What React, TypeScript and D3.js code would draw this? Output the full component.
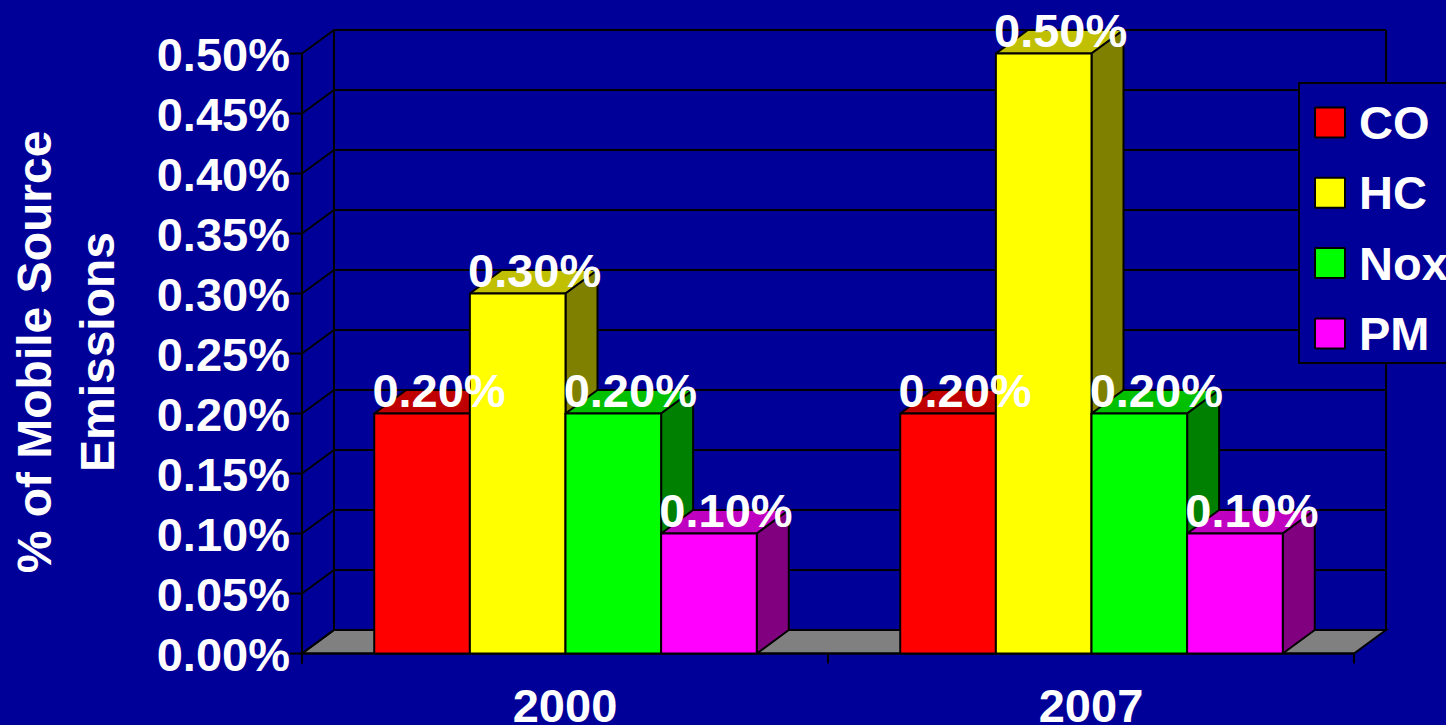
import * as d3 from "d3";

const categories = ["2000", "2007"];
const seriesNames = ["CO", "HC", "Nox", "PM"];
// values are already in percent
const seriesValues = [
  [0.2, 0.2],
  [0.3, 0.5],
  [0.2, 0.2],
  [0.1, 0.1],
];
const yTicks = [0, 0.05, 0.1, 0.15, 0.2, 0.25, 0.3, 0.35, 0.4, 0.45, 0.5];
const colors = ["#ff0000", "#ffff00", "#00ff00", "#ff00ff"];
const sideColors = ["#800000", "#808000", "#008000", "#800080"];
const topColors = ["#c00000", "#c0c000", "#00c000", "#c000c0"];

const width = 1446;
const height = 725;
const BG = "#000099";
const FONT = "'Liberation Sans', Arial, sans-serif";
const FONT_SIZE = 47;

const left = 302;
const right = 1354;
const bottom = 653.5;
const top = 53.5;
const depthX = 32;
const depthY = 23.5;

export default function App() {
  const y = d3.scaleLinear().domain([0, 0.5]).range([bottom, top]);
  const x0 = d3.scaleBand().domain(categories).range([left, right]);
  const x1 = d3
    .scaleBand()
    .domain(seriesNames)
    .range([0.5, x0.bandwidth() + 0.5])
    .paddingInner(0)
    .paddingOuter(0.75);
  const pct = (v: number) => `${d3.format(".2f")(v)}%`;
  const bw = x1.bandwidth();

  return (
    <svg
      width={width}
      height={height}
      viewBox={`0 0 ${width} ${height}`}
      style={{ position: "absolute", left: 0, top: 0, background: BG }}
      fontFamily={FONT}
      fontWeight="bold"
      fill="#fff"
    >
      {/* floor */}
      <polygon
        points={`${left},${bottom} ${left + depthX},${bottom - depthY} ${right + depthX},${bottom - depthY} ${right},${bottom}`}
        fill="#808080"
        stroke="#000"
        strokeWidth={2}
      />

      {/* walls and gridlines */}
      {yTicks.map((t) => (
        <g key={t}>
          <line x1={left - 12} x2={left} y1={y(t)} y2={y(t)} stroke="#000" strokeWidth={2} />
          <line x1={left} x2={left + depthX} y1={y(t)} y2={y(t) - depthY} stroke="#000" strokeWidth={2} />
          <line x1={left + depthX} x2={right + depthX} y1={y(t) - depthY} y2={y(t) - depthY} stroke="#000" strokeWidth={2} />
        </g>
      ))}
      <line x1={left} x2={left} y1={top} y2={bottom + 10} stroke="#000" strokeWidth={2} />
      <line x1={left + depthX} x2={left + depthX} y1={top - depthY} y2={bottom - depthY} stroke="#000" strokeWidth={2} />
      <line x1={right + depthX} x2={right + depthX} y1={top - depthY} y2={bottom - depthY} stroke="#000" strokeWidth={2} />
      <line x1={left} x2={right} y1={bottom} y2={bottom} stroke="#000" strokeWidth={2} />
      {[...categories.map((c) => x0(c)!), right].map((v) => (
        <line key={v} x1={v} x2={v} y1={bottom} y2={bottom + 10} stroke="#000" strokeWidth={2} />
      ))}

      {/* bars */}
      {categories.map((c, ci) =>
        seriesNames.map((s, si) => {
          const bx = x0(c)! + x1(s)!;
          const by = y(seriesValues[si][ci]);
          return (
            <g key={`${c}-${s}`} stroke="#000" strokeWidth={2} strokeLinejoin="round">
              <polygon
                points={`${bx},${by} ${bx + depthX},${by - depthY} ${bx + bw + depthX},${by - depthY} ${bx + bw},${by}`}
                fill={topColors[si]}
              />
              <polygon
                points={`${bx + bw},${by} ${bx + bw + depthX},${by - depthY} ${bx + bw + depthX},${bottom - depthY} ${bx + bw},${bottom}`}
                fill={sideColors[si]}
              />
              <rect x={bx} y={by} width={bw} height={bottom - by} fill={colors[si]} />
            </g>
          );
        }),
      )}

      {/* data labels */}
      {categories.map((c, ci) =>
        seriesNames.map((s, si) => (
          <text
            key={`${c}-${s}`}
            x={x0(c)! + x1(s)! + bw / 2 + 17}
            y={y(seriesValues[si][ci]) - 7}
            textAnchor="middle"
            fontSize={FONT_SIZE}
          >
            {pct(seriesValues[si][ci])}
          </text>
        )),
      )}

      {/* y tick labels */}
      {yTicks.map((t) => (
        <text key={t} x={290} y={y(t) + 17} textAnchor="end" fontSize={FONT_SIZE}>
          {pct(t)}
        </text>
      ))}

      {/* x labels */}
      {categories.map((c) => (
        <text
          key={c}
          x={x0(c)! + x0.bandwidth() / 2}
          y={722}
          textAnchor="middle"
          fontSize={FONT_SIZE}
        >
          {c}
        </text>
      ))}

      {/* y title */}
      <text transform="translate(51,352) rotate(-90)" textAnchor="middle" fontSize={48}>
        % of Mobile Source
      </text>
      <text transform="translate(114,352) rotate(-90)" textAnchor="middle" fontSize={48}>
        Emissions
      </text>

      {/* legend */}
      <rect x={1299} y={83} width={160} height={280} fill={BG} stroke="#000" strokeWidth={2} />
      {seriesNames.map((s, i) => (
        <g key={s}>
          <rect
            x={1315}
            y={107.5 + i * 70.3}
            width={30}
            height={30}
            rx={1}
            fill={colors[i]}
            stroke="#000"
            strokeWidth={2}
          />
          <text x={1359} y={139 + i * 70.3} fontSize={FONT_SIZE}>
            {s}
          </text>
        </g>
      ))}
    </svg>
  );
}
